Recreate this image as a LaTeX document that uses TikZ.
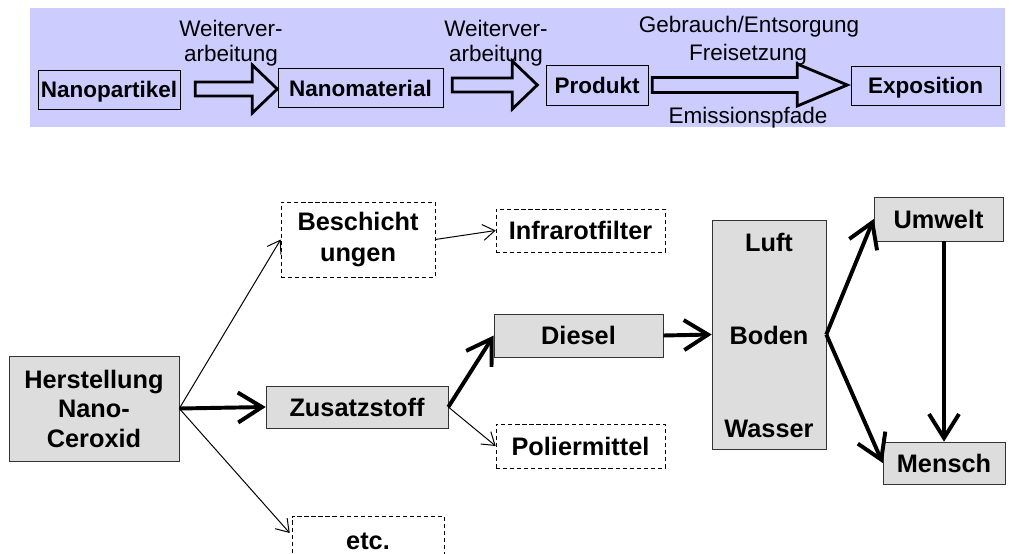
\documentclass[tikz,border=0pt]{standalone}
\usepackage{fontspec}
\setmainfont{Liberation Sans}
\usetikzlibrary{arrows.meta,calc}
\definecolor{bandblue}{RGB}{204,204,255}
\definecolor{boxgray}{RGB}{221,221,221}
\tikzset{
  topbox/.style={draw, inner sep=0pt, text height=11.5pt, text depth=0pt,
    font=\fontsize{16}{18}\selectfont\bfseries},
  graybox/.style={draw=black!80, fill=boxgray, inner sep=0pt, align=center,
    font=\fontsize{18}{21}\selectfont\bfseries},
  dashbox/.style={draw, dashed, dash pattern=on 3pt off 2pt, inner sep=0pt,
    align=center, font=\fontsize{18}{21}\selectfont\bfseries},
  steptext/.style={font=\fontsize{16}{18}\selectfont, anchor=base, inner sep=0pt},
  hollow/.style={draw, fill=bandblue, line width=2pt, line join=miter},
  thinarrow/.style={-{Straight Barb[length=3mm,width=4mm]}, line width=0.7pt},
  thickarrow/.style={-{Straight Barb[length=6mm,width=7.5mm]}, line width=2.8pt},
}
\begin{document}
\begin{tikzpicture}[x=0.025cm, y=-0.025cm]
	\clip (0,0) rectangle (1018,553);
	% top band
	\fill[bandblue] (30,8) rectangle (1005,127);
	\node[topbox, minimum width=3.55cm, minimum height=0.975cm] (np) at (109,89.5) {Nanopartikel};
	\node[topbox, minimum width=4.125cm, minimum height=0.975cm] (nm) at (360.5,88) {Nanomaterial};
	\node[topbox, minimum width=2.55cm, minimum height=1cm] (pr) at (597,85) {Produkt};
	\node[topbox, minimum width=3.725cm, minimum height=0.975cm] (ex) at (925.5,85.4) {Exposition};
	\draw[hollow] ($(np.east)+(15,-7.5)$) -- ++(57,0) -- ++(0,-17) -- ++(25,24)
		-- ++(-25,24) -- ++(0,-17) -- ++(-57,0) -- cycle;
	\draw[hollow] ($(nm.east)+(9,-10)$) -- ++(60,0) -- ++(0,-17) -- ++(25,24)
		-- ++(-25,24) -- ++(0,-17) -- ++(-60,0) -- cycle;
	\draw[hollow] ($(pr.east)+(4,-7.5)$) -- ++(145,0) -- ++(0,-13.5) -- ++(50,21)
		-- ++(-50,21) -- ++(0,-13.5) -- ++(-145,0) -- cycle;
	\node[steptext] (w1a) at (231,36) {Weiterver-};
	\node[steptext] (w1b) at (231,61) {arbeitung};
	\node[steptext] (w2a) at (496,36) {Weiterver-};
	\node[steptext] (w2b) at (496,61) {arbeitung};
	\node[steptext] (gebrauch) at (749,32) {Gebrauch/Entsorgung};
	\node[steptext] (frei) at (748,60) {Freisetzung};
	\node[steptext] (emis) at (748,123) {Emissionspfade};
	% lower flow
	\node[graybox, minimum width=4.25cm, minimum height=2.625cm] (hs) at (94,408.5) {Herstellung\\Nano-\\Ceroxid};
	\node[graybox, minimum width=4.55cm, minimum height=1.05cm] (zs) at (357,407) {Zusatzstoff};
	\node[dashbox, minimum width=3.85cm, minimum height=1.875cm,
		font=\fontsize{18}{22.5}\selectfont\bfseries] (bs) at (358,239.5) {Beschicht\\ungen};
	\node[dashbox, minimum width=3.8cm, minimum height=1.25cm] (etc) at (368,541) {etc.};
	\node[dashbox, minimum width=4.225cm, minimum height=1.075cm] (ir) at (580.5,230.5) {Infrarotfilter};
	\node[graybox, minimum width=4.225cm, minimum height=1.075cm] (ds) at (578.5,335.5) {Diesel};
	\node[dashbox, minimum width=4.225cm, minimum height=1.1cm] (pm) at (580.5,446) {Poliermittel};
	\node[graybox, minimum width=2.85cm, minimum height=5.725cm] (env) at (769,334.5) {};
	\node[font=\fontsize{18}{21}\selectfont\bfseries] (luft) at (769,242) {Luft};
	\node[font=\fontsize{18}{21}\selectfont\bfseries] (boden) at (769,335) {Boden};
	\node[font=\fontsize{18}{21}\selectfont\bfseries] (wasser) at (769,429) {Wasser};
	\node[graybox, minimum width=3.225cm, minimum height=1.1cm] (uw) at (938.5,219) {Umwelt};
	\node[graybox, minimum width=3.05cm, minimum height=1.05cm] (me) at (944,463) {Mensch};
	\draw[thinarrow] (hs.east) -- (bs.west);
	\draw[thickarrow] (hs.east) -- (zs.west);
	\draw[thinarrow] (hs.east) -- ($(etc.west)+(-2,-8)$);
	\draw[thinarrow] (bs.east) -- (ir.west);
	\draw[thickarrow] (zs.east) -- (ds.west);
	\draw[thinarrow] (zs.east) -- (pm.west);
	\draw[thickarrow] (ds.east) -- (env.west);
	\draw[thickarrow] (env.east) -- (uw.west);
	\draw[thickarrow] (env.east) -- (me.west);
	\draw[thickarrow] (uw.south -| me.north) -- (me.north);
\end{tikzpicture}
\end{document}
